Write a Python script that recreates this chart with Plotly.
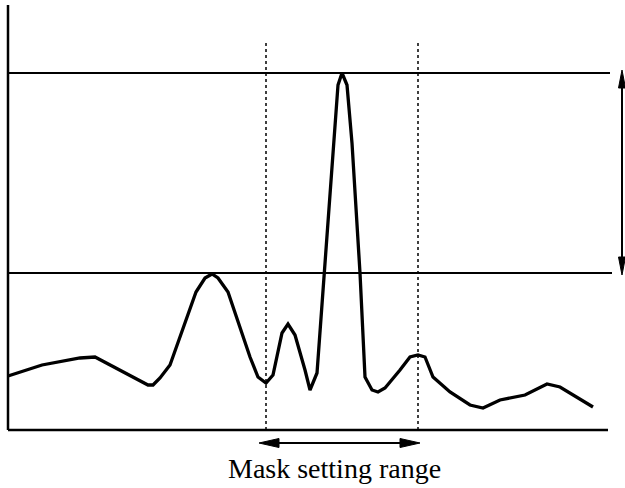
import plotly.graph_objects as go

# Signal profile: position along scan (x) and signal level above baseline (y)
position = [0, 34, 72, 87, 140, 145, 152, 162, 188, 197, 204, 210, 220, 242, 250, 258, 265,
            274, 280, 287, 297, 302, 309, 330, 334, 339, 344, 352, 357, 364, 370, 377, 392,
            402, 410, 417, 425, 442, 462, 475, 492, 517, 539, 552, 585]
level = [54, 65, 72, 73, 45, 45, 52, 65, 138, 152, 156, 152, 138, 73, 53, 47, 55,
         97, 106, 95, 60, 40, 57, 345, 357, 345, 287, 157, 53, 40, 38, 42, 60,
         73, 75, 73, 53, 38, 25, 22, 30, 35, 46, 43, 23]

upper_level = 357      # peak threshold line
lower_level = 157      # secondary threshold line
mask_range = [258, 410]  # mask setting range (positions)
axis_end_x = 600
axis_top_y = 425
label = "Mask setting range"

fig = go.Figure()
fig.add_trace(go.Scatter(x=position, y=level, mode="lines",
                         line=dict(color="black", width=3.3), hoverinfo="skip"))

shapes = []
# axes
shapes.append(dict(type="line", x0=0, x1=0, y0=0, y1=axis_top_y, line=dict(color="black", width=2.5)))
shapes.append(dict(type="line", x0=0, x1=axis_end_x, y0=0, y1=0, line=dict(color="black", width=2.5)))
# threshold lines
shapes.append(dict(type="line", x0=0, x1=602, y0=upper_level, y1=upper_level, line=dict(color="black", width=2)))
shapes.append(dict(type="line", x0=0, x1=604, y0=lower_level, y1=lower_level, line=dict(color="black", width=2)))
# mask range dotted lines
for mx in mask_range:
    shapes.append(dict(type="line", x0=mx, x1=mx, y0=0, y1=390, line=dict(color="black", width=1.5, dash="dot")))


def double_arrow_v(x, y_top, y_bot, head_len=18, half_w=3.5):
    out = [dict(type="line", x0=x, x1=x, y0=y_bot + head_len - 2, y1=y_top - head_len + 2,
                line=dict(color="black", width=2))]
    out.append(dict(type="path", path=f"M {x} {y_top} L {x - half_w} {y_top - head_len} L {x + half_w} {y_top - head_len} Z",
                    fillcolor="black", line=dict(color="black", width=1)))
    out.append(dict(type="path", path=f"M {x} {y_bot} L {x - half_w} {y_bot + head_len} L {x + half_w} {y_bot + head_len} Z",
                    fillcolor="black", line=dict(color="black", width=1)))
    return out


def double_arrow_h(y, x_left, x_right, head_len=20, half_w=4.5):
    out = [dict(type="line", x0=x_left + head_len - 2, x1=x_right - head_len + 2, y0=y, y1=y,
                line=dict(color="black", width=2))]
    out.append(dict(type="path", path=f"M {x_left} {y} L {x_left + head_len} {y + half_w} L {x_left + head_len} {y - half_w} Z",
                    fillcolor="black", line=dict(color="black", width=1)))
    out.append(dict(type="path", path=f"M {x_right} {y} L {x_right - head_len} {y + half_w} L {x_right - head_len} {y - half_w} Z",
                    fillcolor="black", line=dict(color="black", width=1)))
    return out


shapes += double_arrow_v(614, upper_level + 3, lower_level - 2)
shapes += double_arrow_h(-13, 251, 412)

annotations = [
    dict(x=326, y=-38, xref="x", yref="y", text=label, showarrow=False,
         font=dict(family="Liberation Serif", size=28, color="black"), xanchor="center", yanchor="middle"),
]

fig.update_layout(
    width=625, height=488,
    margin=dict(l=0, r=0, t=0, b=0),
    paper_bgcolor="white", plot_bgcolor="white",
    showlegend=False,
    shapes=shapes, annotations=annotations,
    xaxis=dict(range=[-8, 617], visible=False, fixedrange=True),
    yaxis=dict(range=[-58, 430], visible=False, fixedrange=True),
)
fig.write_html(
    "out.html",
    config={"displayModeBar": False},
    post_script="document.documentElement.style.overflow='hidden';"
                "document.body.style.margin='0';document.body.style.overflow='hidden';",
)
